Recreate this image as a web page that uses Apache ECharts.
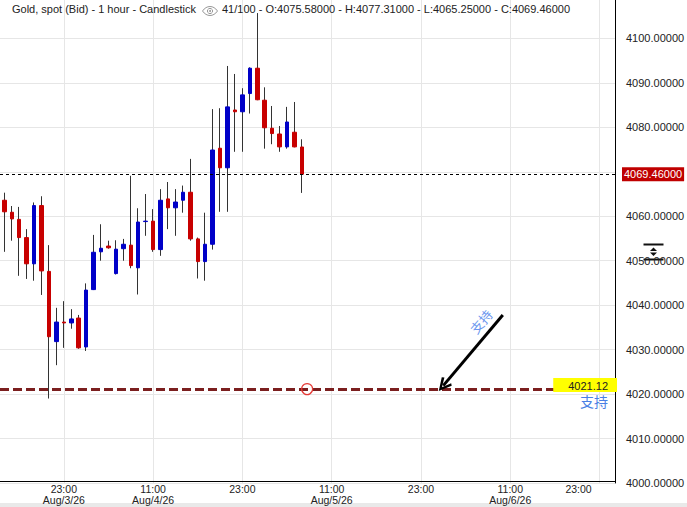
<!DOCTYPE html>
<html><head><meta charset="utf-8">
<script src="https://cdn.jsdelivr.net/npm/echarts@6/dist/echarts.min.js"></script>
<style>html,body{margin:0;padding:0;background:#fff}#c{width:687px;height:507px}</style>
</head><body><div id="c"></div>
<script>
// ---- data ----
const opens  = [4063.6,4060.9,4059.3,4055.2,4049.3,4062.4,4047.6,4031.8,4036.2,4036.0,4037.1,4030.6,4043.5,4052.0,4053.3,4047.1,4052.7,4053.5,4048.4,4058.8,4058.9,4052.5,4063.9,4061.9,4063.6,4065.4,4054.9,4049.8,4053.7,4075.3,4070.9,4083.9,4083.5,4087.6,4093.3,4086.1,4079.8,4078.5,4075.6,4078.9,4075.58];
const closes = [4061.0,4059.4,4055.2,4049.3,4062.4,4047.7,4032.9,4036.2,4036.0,4036.9,4030.4,4043.4,4051.9,4052.8,4052.9,4052.6,4053.7,4048.9,4058.7,4058.9,4052.5,4063.6,4061.9,4063.2,4065.4,4054.9,4049.8,4053.7,4074.9,4070.9,4084.6,4083.5,4087.3,4093.3,4086.2,4079.9,4078.6,4075.6,4081.2,4075.6,4069.46];
const lows   = [4052.0,4054.5,4046.6,4045.9,4045.5,4042.3,4019.0,4026.5,4030.4,4034.7,4030.2,4029.7,4043.4,4050.0,4052.7,4046.9,4050.0,4048.3,4042.4,4055.6,4052.0,4051.1,4057.1,4055.6,4060.8,4054.5,4046.0,4045.5,4052.5,4061.0,4061.0,4074.5,4074.5,4083.1,4086.1,4075.2,4076.2,4074.5,4075.2,4075.5,4065.25];
const highs  = [4065.3,4062.3,4062.1,4057.1,4063.1,4064.5,4053.5,4039.4,4040.9,4039.1,4037.8,4044.9,4055.8,4058.2,4054.5,4054.6,4054.9,4069.1,4061.8,4065.0,4061.6,4066.1,4067.7,4066.1,4066.9,4072.9,4055.2,4060.8,4084.1,4084.3,4093.8,4092.0,4088.8,4093.5,4105.7,4089.0,4084.8,4080.3,4084.6,4085.7,4077.31];
const startDay = 3, startHour = 15;          // first candle: Aug/3/26 15:00 (hourly)
const monthName = 'Aug', yearShort = '26';
const lastClose = 4069.46;
const supportLevel = 4021.12;
const supportText = '支持';
const arrowFrom = [67.0, 4037.8];
const arrowTo = [59.0, 4021.9];
const anchorPoint = [40.7, 4021.12];
const titleText = 'Gold, spot (Bid) - 1 hour - Candlestick';
const infoText = '41/100 - O:4075.58000 - H:4077.31000 - L:4065.25000 - C:4069.46000';
const xMin = -0.58, xMax = 82.08;
const yMin = 4000, yMax = 4108.64, yStep = 10;

// ---- build ----
const FONT = '"Liberation Sans", Arial, sans-serif';
const CJK = '"Noto Sans CJK SC", sans-serif';
const UP = '#0000c8', DOWN = '#c80000';
const wickData = opens.map((o, i) => [i, o, closes[i], lows[i], highs[i]]);
const bodyData = opens.map((o, i) => [i, o, closes[i], Math.min(o, closes[i]), Math.max(o, closes[i])]);
const labelValues = [];
for (let v = 0; v <= Math.floor(xMax); v++) if ((startHour + v) % 12 === 11) labelValues.push(v);
function timeLabel(v) {
  const t = startHour + v, h = t % 24, d = startDay + Math.floor(t / 24);
  let s = (h < 10 ? '0' + h : h) + ':00';
  if (h === 11 || v === labelValues[0]) s += '\n' + monthName + '/' + d + '/' + yearShort;
  if (v === labelValues[labelValues.length - 1]) s = '{r|' + s + '}';
  return s;
}

const chart = echarts.init(document.getElementById('c'), null, {renderer: 'svg'});
chart.setOption({
  animation: false,
  backgroundColor: '#fff',
  textStyle: {fontFamily: FONT},
  grid: {left: 0, right: 72, top: 0, bottom: 24, outerBoundsMode: 'none', containLabel: false},
  xAxis: {
    type: 'value', min: xMin, max: xMax, offset: -2,
    axisLine: {show: true, onZero: false, lineStyle: {color: '#000', width: 1}},
    axisTick: {show: false, customValues: labelValues},
    axisLabel: {customValues: labelValues, formatter: timeLabel, fontSize: 10.5, lineHeight: 11, margin: 2,
      color: '#222', fontFamily: FONT,
      rich: {r: {fontSize: 10.5, lineHeight: 11, color: '#222', fontFamily: FONT, padding: [0, 42, 0, 0]}}},
    splitLine: {show: true, lineStyle: {color: '#e6e6e6', width: 1}}
  },
  yAxis: {
    type: 'value', position: 'right', min: yMin, max: yMax, interval: yStep, scale: true,
    axisLine: {show: true, onZero: false, lineStyle: {color: '#000', width: 1}},
    axisTick: {show: false},
    axisLabel: {formatter: v => (Math.abs(v - lastClose) < 5 ? '' : v.toFixed(5)), fontSize: 11, color: '#222',
      margin: 11, showMaxLabel: false, fontFamily: FONT},
    splitLine: {show: true, showMaxLine: false, lineStyle: {color: '#e6e6e6', width: 1}}
  },
  series: [
    {
      type: 'candlestick', name: 'wick', data: wickData, barWidth: 1, z: 2,
      itemStyle: {color: 'rgba(0,0,0,0)', color0: 'rgba(0,0,0,0)', borderColor: '#333', borderColor0: '#333', borderWidth: 1}
    },
    {
      type: 'candlestick', name: 'body', data: bodyData, barWidth: 4, z: 3,
      itemStyle: {color: UP, color0: DOWN, borderColor: UP, borderColor0: DOWN, borderWidth: 1},
      markPoint: {
        silent: true,
        data: [{coord: anchorPoint, symbol: 'circle', symbolSize: 11,
          itemStyle: {color: 'rgba(0,0,0,0)', borderColor: '#e53935', borderWidth: 1.2}, label: {show: false}}]
      },
      markLine: {
        silent: true, symbol: 'none', animation: false,
        data: [
          {yAxis: lastClose, lineStyle: {color: '#000', width: 1, type: [3, 3]},
            label: {show: true, position: 'end', distance: 7, formatter: lastClose.toFixed(5), color: '#fff',
              backgroundColor: '#c00000', padding: [2, 2, 1, 2], fontSize: 11, fontFamily: FONT}},
          {yAxis: supportLevel, lineStyle: {color: '#7b1f1f', width: 3, type: [9, 4]},
            label: {show: true, position: 'insideEndTop', distance: [-2, -3], formatter: supportLevel.toFixed(2),
              color: '#222', backgroundColor: '#ffff00', padding: [2, 9, 1, 15], fontSize: 11, fontFamily: FONT}},
          {yAxis: supportLevel + 0.001, lineStyle: {color: 'rgba(0,0,0,0)', width: 1, type: 'solid'},
            label: {show: true, position: 'insideEndBottom', distance: [7, 5], formatter: supportText,
              color: '#4a7fe4', fontSize: 14, fontFamily: CJK}},
          [
            {coord: arrowFrom, symbol: 'none',
              lineStyle: {color: '#000', width: 3, type: 'solid'},
              label: {show: true, position: 'insideStartTop', distance: 6, formatter: supportText,
                color: '#6a96ee', fontSize: 13, fontFamily: CJK}},
            {coord: arrowTo, symbol: 'path://M5,0 L10,9 L8.4,10.2 L5,3.6 L1.6,10.2 L0,9 Z', symbolSize: [13, 14]}
          ]
        ]
      }
    }
  ],
  graphic: [
    {type: 'rect', left: 0, top: 503, shape: {width: 687, height: 4}, style: {fill: '#e9e9e9'}, z: -1},
    {type: 'text', left: 12, top: 3, style: {text: titleText, fontSize: 11, fill: '#222', font: '11px ' + FONT}, z: 100},
    {type: 'group', left: 200, top: 4, z: 100, children: [
      {type: 'bezierCurve', shape: {x1: 0, y1: 5, x2: 15, y2: 5, cpx1: 4, cpy1: -1, cpx2: 11, cpy2: -1}, style: {stroke: '#999', lineWidth: 1, fill: null}},
      {type: 'bezierCurve', shape: {x1: 0, y1: 5, x2: 15, y2: 5, cpx1: 4, cpy1: 11, cpx2: 11, cpy2: 11}, style: {stroke: '#999', lineWidth: 1, fill: null}},
      {type: 'circle', shape: {cx: 7.5, cy: 5, r: 2.6}, style: {stroke: '#999', lineWidth: 1, fill: null}},
      {type: 'circle', shape: {cx: 7.5, cy: 5, r: 1}, style: {fill: '#999'}}
    ]},
    {type: 'text', left: 222, top: 3, style: {text: infoText, fontSize: 11, fill: '#222', font: '11px ' + FONT}, z: 100},
    {type: 'group', left: 641, top: 242, z: 100, children: [
      {type: 'line', shape: {x1: 0, y1: 1, x2: 20, y2: 1}, style: {stroke: '#111', lineWidth: 2}},
      {type: 'polygon', shape: {points: [[10, 4], [6.5, 7.5], [13.5, 7.5]]}, style: {fill: '#111'}},
      {type: 'polygon', shape: {points: [[6.5, 9], [13.5, 9], [10, 12.5]]}, style: {fill: '#111'}},
      {type: 'line', shape: {x1: 0, y1: 16, x2: 20, y2: 16}, style: {stroke: '#111', lineWidth: 2}}
    ]}
  ]
});
</script></body></html>
